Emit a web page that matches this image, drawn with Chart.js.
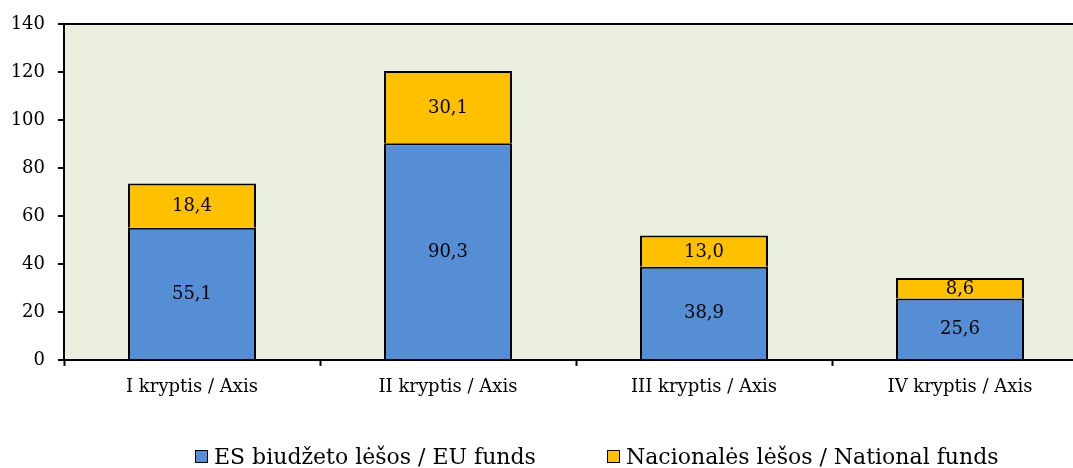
<!DOCTYPE html>
<html>
<head>
<meta charset="utf-8">
<script src="https://cdn.jsdelivr.net/npm/chart.js@4.4.1/dist/chart.umd.min.js"></script>
<style>
  body { margin: 0; background: #fff; overflow: hidden; width: 1073px; height: 468px; position: relative; }
  #chart { position: absolute; left: 0; top: 0; }
  .legend-item { position: absolute; top: 444px; font-family: "DejaVu Serif", serif; font-size: 22px; color: #000; white-space: nowrap; display: flex; align-items: center; }
  .legend-box { width: 11px; height: 11px; border: 1.5px solid #000; margin-right: 6px; }
</style>
</head>
<body>
<canvas id="chart" width="1090" height="468"></canvas>
<div class="legend-item" style="left:195px"><span class="legend-box" style="background:#558ED5"></span><span id="lg0"></span></div>
<div class="legend-item" style="left:607px"><span class="legend-box" style="background:#FFC000"></span><span id="lg1"></span></div>
<script>
// ==========================
// Data
// ==========================
const categories = ['I kryptis / Axis', 'II kryptis / Axis', 'III kryptis / Axis', 'IV kryptis / Axis'];
const seriesNames = ['ES biudžeto lėšos / EU funds', 'Nacionalės lėšos / National funds'];
const euFunds = [55.1, 90.3, 38.9, 25.6];
const nationalFunds = [18.4, 30.1, 13.0, 8.6];
const yMin = 0, yMax = 140, yStep = 20;

const FONT = '"DejaVu Serif", serif';
const BLUE = '#558ED5';
const YELLOW = '#FFC000';
const PLOT_BG = '#EBEFDF';

document.getElementById('lg0').textContent = seriesNames[0];
document.getElementById('lg1').textContent = seriesNames[1];

// ==========================
// Plugins
// ==========================
const plotBackground = {
    id: 'plotBackground',
    beforeDraw(chart) {
        const { ctx, chartArea: a } = chart;
        ctx.save();
        ctx.fillStyle = PLOT_BG;
        ctx.fillRect(a.left, a.top, a.right - a.left, a.bottom - a.top);
        ctx.restore();
    }
};

const valueLabels = {
    id: 'valueLabels',
    afterDatasetsDraw(chart) {
        const ctx = chart.ctx;
        ctx.save();
        ctx.font = '18px ' + FONT;
        ctx.fillStyle = '#000';
        ctx.textAlign = 'center';
        ctx.textBaseline = 'middle';
        chart.data.datasets.forEach((ds, i) => {
            chart.getDatasetMeta(i).data.forEach((bar, j) => {
                const y = (bar.y + bar.base) / 2;
                ctx.fillText(ds.data[j].toFixed(1).replace('.', ','), bar.x, y + 1);
            });
        });
        ctx.restore();
    }
};

// ==========================
// Chart
// ==========================
new Chart(document.getElementById('chart'), {
    type: 'bar',
    data: {
        labels: categories,
        datasets: [
            { label: seriesNames[0], data: euFunds, backgroundColor: BLUE, borderColor: '#000', borderWidth: 2, borderSkipped: 'bottom' },
            { label: seriesNames[1], data: nationalFunds, backgroundColor: YELLOW, borderColor: '#000', borderWidth: 2, borderSkipped: 'bottom' }
        ]
    },
    options: {
        responsive: false,
        animation: false,
        categoryPercentage: 1,
        barPercentage: 0.5,
        layout: { padding: { top: 24, left: 0, right: 2, bottom: 0 } },
        plugins: { legend: { display: false }, tooltip: { enabled: false } },
        scales: {
            x: {
                stacked: true,
                offset: true,
                grid: { offset: true, drawOnChartArea: false, drawTicks: true, tickLength: 6, tickColor: '#000', tickWidth: 2 },
                border: { color: '#000', width: 2 },
                ticks: { color: '#000', font: { family: FONT, size: 18 }, padding: 11 },
                afterFit: s => { s.height = 108; }
            },
            y: {
                stacked: true,
                min: yMin,
                max: yMax,
                grid: {
                    color: c => c.tick && c.tick.value === yMax ? '#000' : 'rgba(0,0,0,0)',
                    lineWidth: 2,
                    tickColor: '#000',
                    tickWidth: 2,
                    tickLength: 6
                },
                border: { color: '#000', width: 2 },
                ticks: { stepSize: yStep, color: '#000', font: { family: FONT, size: 18 }, padding: 13 },
                afterFit: s => { s.width = 64; }
            }
        }
    },
    plugins: [plotBackground, valueLabels]
});
</script>
</body>
</html>
